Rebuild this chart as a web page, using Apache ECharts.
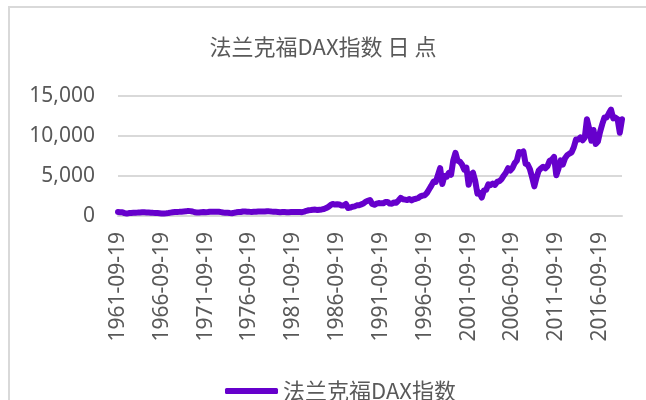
<!DOCTYPE html>
<html>
<head>
<meta charset="utf-8">
<title>法兰克福DAX指数日点</title>
<script src="https://cdn.jsdelivr.net/npm/echarts@6/dist/echarts.min.js"></script>
<style>
  html, body { margin: 0; padding: 0; background: #fff; }
  #main { width: 646px; height: 400px; }
</style>
</head>
<body>
<div id="main"></div>
<script>
// 季度取样的DAX点位，从1961-09开始，每季度一个点（3/6/9/12月）
const startYear = 1961
const startQuarter = 3 // 第一个点是9月
const quarterMonths = ['03', '06', '09', '12']
const daxValues = [
  500, 480, // 1961
  470, 360, 300, 370, // 1962
  380, 400, 420, 430, // 1963
  450, 470, 460, 450, // 1964
  440, 420, 400, 390, // 1965
  380, 350, 300, 320, // 1966
  340, 370, 420, 470, // 1967
  490, 510, 520, 540, // 1968
  560, 580, 640, 610, // 1969
  560, 470, 450, 440, // 1970
  470, 490, 470, 500, // 1971
  540, 530, 520, 540, // 1972
  530, 480, 430, 400, // 1973
  410, 370, 350, 400, // 1974
  460, 490, 500, 560, // 1975
  570, 540, 520, 510, // 1976
  530, 520, 550, 550, // 1977
  550, 560, 590, 580, // 1978
  550, 530, 520, 500, // 1979
  480, 490, 500, 480, // 1980
  480, 500, 490, 490, // 1981
  510, 500, 480, 550, // 1982
  650, 720, 740, 780, // 1983
  800, 750, 790, 820, // 1984
  880, 990, 1150, 1370, // 1985
  1500, 1430, 1460, 1430, // 1986
  1300, 1320, 1500, 1000, // 1987
  1050, 1150, 1200, 1330, // 1988
  1350, 1450, 1560, 1790, // 1989
  1900, 2000, 1500, 1400, // 1990
  1550, 1620, 1580, 1580, // 1991
  1750, 1760, 1550, 1545, // 1992
  1700, 1650, 1950, 2270, // 1993
  2100, 2050, 1990, 2110, // 1994
  1950, 2100, 2150, 2250, // 1995
  2450, 2550, 2600, 2890, // 1996
  3350, 3800, 4300, 4250, // 1997
  5100, 6000, 4000, 5000, // 1998
  4900, 5400, 5150, 6960, // 1999
  7900, 6900, 6800, 6430, // 2000
  5800, 6050, 3900, 5160, // 2001
  5400, 4400, 2800, 2890, // 2002
  2300, 3200, 3260, 3965, // 2003
  3860, 4050, 3890, 4256, // 2004
  4350, 4590, 5040, 5408, // 2005
  5970, 5680, 6000, 6597, // 2006
  6920, 8000, 7860, 8067, // 2007
  6530, 6420, 5830, 4810, // 2008
  3700, 4810, 5680, 5957, // 2009
  6150, 5960, 6230, 6914, // 2010
  7040, 7380, 5100, 5898, // 2011
  6950, 6420, 7220, 7612, // 2012
  7800, 7960, 8590, 9552, // 2013
  9560, 9830, 9470, 9806, // 2014
  12100, 10945, 9400, 10743, // 2015
  9000, 9300, 10511, 11481, // 2016
  12313, 12325, 12829, 13300, // 2017
  12200, 12300, 12100, 10400, // 2018
  12100 // 2019
]
const yTicks = [0, 5000, 10000, 15000]

// 日期类目：每季度的19日
const dates = daxValues.map((v, i) => {
  const q = startQuarter - 1 + i
  const year = startYear + Math.floor(q / 4)
  return year + '-' + quarterMonths[q % 4] + '-19'
})

function initChart () {
  const chart = echarts.init(document.getElementById('main'), null, { renderer: 'canvas' })
  const textColor = '#595959'
  const lineColor = '#d9d9d9'
  const option = {
    backgroundColor: '#fff',
    animation: false,
    title: {
      text: '法兰克福DAX指数 日 点',
      left: 'center',
      top: 31,
      textStyle: {
        color: textColor,
        fontSize: 22,
        fontWeight: 'normal',
        fontFamily: 'Noto Sans CJK SC'
      }
    },
    // 外框
    graphic: [{
      type: 'rect',
      shape: { x: 9, y: 7, width: 660, height: 420 },
      style: { fill: 'none', stroke: lineColor, lineWidth: 2 },
      silent: true
    }],
    legend: {
      left: 220,
      top: 375,
      icon: 'roundRect',
      itemWidth: 53,
      itemHeight: 6,
      textStyle: {
        color: textColor,
        fontSize: 22,
        fontFamily: 'Noto Sans CJK SC'
      },
      data: ['法兰克福DAX指数']
    },
    grid: {
      left: 118,
      right: 24,
      top: 96,
      bottom: 184,
      containLabel: false
    },
    xAxis: {
      type: 'category',
      data: dates,
      boundaryGap: false,
      axisLine: { lineStyle: { color: lineColor, width: 2 } },
      axisTick: { show: false },
      axisLabel: {
        interval: 19,
        rotate: 90,
        margin: 16,
        color: textColor,
        fontSize: 21,
        fontFamily: 'Noto Sans'
      },
      splitLine: { show: false }
    },
    yAxis: {
      type: 'value',
      min: yTicks[0],
      max: yTicks[yTicks.length - 1],
      interval: yTicks[1] - yTicks[0],
      axisLine: { show: false },
      axisTick: { show: false },
      axisLabel: {
        margin: 23,
        color: textColor,
        fontSize: 21,
        fontFamily: 'Noto Sans',
        formatter: v => v.toLocaleString('en-US')
      },
      splitLine: { lineStyle: { color: lineColor, width: 2 } }
    },
    series: [{
      name: '法兰克福DAX指数',
      type: 'line',
      data: daxValues,
      showSymbol: false,
      symbol: 'none',
      lineStyle: { color: '#6600CC', width: 6, cap: 'round', join: 'round' },
      itemStyle: { color: '#6600CC' }
    }]
  }
  chart.setOption(option)
}

initChart()
</script>
</body>
</html>
